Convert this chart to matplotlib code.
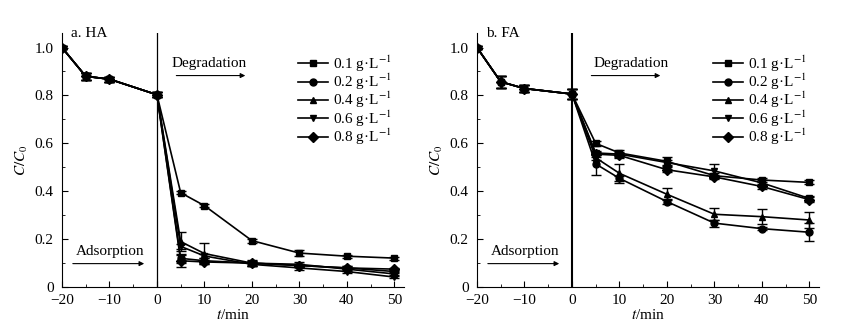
import numpy as np
import matplotlib
matplotlib.use('Agg')
import matplotlib.pyplot as plt
from matplotlib.ticker import MultipleLocator
from matplotlib.lines import Line2D

plt.rcParams['font.family'] = ['Liberation Serif', 'DejaVu Serif']
plt.rcParams['mathtext.fontset'] = 'stix'
plt.rcParams['font.size'] = 11

t = [-20, -15, -10, 0, 5, 10, 20, 30, 40, 50]
labels = ['0.1 g·L$^{-1}$', '0.2 g·L$^{-1}$', '0.4 g·L$^{-1}$', '0.6 g·L$^{-1}$', '0.8 g·L$^{-1}$']
markers = ['s', 'o', '^', 'v', 'D']

# HA panel
ha_01 = [1.0, 0.88, 0.868, 0.803, 0.394, 0.34, 0.194, 0.142, 0.129, 0.121]
ha_02 = [1.0, 0.88, 0.868, 0.803, 0.12, 0.11, 0.10, 0.09, 0.08, 0.065]
ha_04 = [1.0, 0.88, 0.868, 0.803, 0.19, 0.14, 0.10, 0.095, 0.075, 0.055]
ha_06 = [1.0, 0.88, 0.868, 0.803, 0.17, 0.13, 0.095, 0.08, 0.065, 0.042]
ha_08 = [1.0, 0.88, 0.868, 0.803, 0.11, 0.105, 0.10, 0.09, 0.08, 0.075]
ha_e01 = [0.005, 0.015, 0.01, 0.01, 0.006, 0.006, 0.008, 0.012, 0.006, 0.006]
ha_e02 = [0.005, 0.015, 0.01, 0.01, 0.02, 0.01, 0.008, 0.008, 0.006, 0.006]
ha_e04 = [0.005, 0.015, 0.01, 0.01, 0.04, 0.045, 0.01, 0.008, 0.006, 0.006]
ha_e06 = [0.005, 0.015, 0.01, 0.01, 0.01, 0.01, 0.008, 0.01, 0.006, 0.006]
ha_e08 = [0.005, 0.015, 0.01, 0.01, 0.025, 0.01, 0.012, 0.008, 0.006, 0.006]

# FA panel
fa_01 = [1.0, 0.857, 0.829, 0.806, 0.60, 0.56, 0.525, 0.465, 0.447, 0.437]
fa_02 = [1.0, 0.857, 0.829, 0.806, 0.514, 0.454, 0.357, 0.267, 0.244, 0.229]
fa_04 = [1.0, 0.857, 0.829, 0.806, 0.54, 0.475, 0.3875, 0.304, 0.294, 0.28]
fa_06 = [1.0, 0.857, 0.829, 0.806, 0.56, 0.555, 0.52, 0.485, 0.435, 0.37]
fa_08 = [1.0, 0.857, 0.829, 0.806, 0.555, 0.55, 0.49, 0.46, 0.42, 0.365]
fa_e01 = [0.005, 0.025, 0.015, 0.02, 0.01, 0.012, 0.02, 0.01, 0.01, 0.008]
fa_e02 = [0.005, 0.025, 0.015, 0.02, 0.045, 0.01, 0.012, 0.015, 0.005, 0.037]
fa_e04 = [0.005, 0.025, 0.015, 0.02, 0.01, 0.04, 0.025, 0.025, 0.03, 0.032]
fa_e06 = [0.005, 0.025, 0.015, 0.02, 0.01, 0.01, 0.01, 0.03, 0.01, 0.01]
fa_e08 = [0.005, 0.025, 0.015, 0.02, 0.01, 0.01, 0.01, 0.01, 0.01, 0.01]

ha = [ha_01, ha_02, ha_04, ha_06, ha_08]
ha_err = [ha_e01, ha_e02, ha_e04, ha_e06, ha_e08]
fa = [fa_01, fa_02, fa_04, fa_06, fa_08]
fa_err = [fa_e01, fa_e02, fa_e04, fa_e06, fa_e08]

fig = plt.figure(figsize=(8.42, 3.35), dpi=100)
ax1 = fig.add_axes([0.0736, 0.143, 0.406, 0.758])
ax2 = fig.add_axes([0.5665, 0.143, 0.406, 0.758])


def draw_panel(ax, data, errs, title, deg_x, vline_w):
	handles = []
	for y, e, m, lab in zip(data, errs, markers, labels):
		ax.errorbar(t, y, yerr=e, color='black', marker=m, markersize=5,
			linewidth=1.2, capsize=3.5, elinewidth=1.0, capthick=1.0)
		# legend shows only line + marker, no error bar
		handles.append(Line2D([], [], color='black', marker=m, markersize=5,
			linewidth=1.2, label=lab))
	ax.axvline(0, color='black', linewidth=vline_w)
	ax.set_xlim(-20, 52)
	ax.set_ylim(0, 1.06)
	ax.spines['top'].set_visible(False)
	ax.spines['right'].set_visible(False)
	ax.xaxis.set_major_locator(MultipleLocator(10))
	ax.xaxis.set_minor_locator(MultipleLocator(5))
	ax.yaxis.set_minor_locator(MultipleLocator(0.1))
	ax.set_yticks([0, 0.2, 0.4, 0.6, 0.8, 1.0])
	ax.set_yticklabels(['0', '0.2', '0.4', '0.6', '0.8', '1.0'])
	ax.tick_params(which='major', direction='in', length=4, labelsize=11)
	ax.tick_params(which='minor', direction='in', length=2)
	ax.tick_params(axis='y', which='major', pad=6)
	ax.tick_params(axis='x', which='major', pad=5)
	ax.set_xlabel('$t$/min', fontsize=11, labelpad=1)
	ax.set_ylabel('$C/C_0$', fontsize=11, labelpad=3)
	ax.text(-18, 1.058, title, fontsize=11, va='center', ha='left')
	# phase arrows
	ax.text(deg_x, 0.933, 'Degradation', fontsize=11, ha='center', va='center')
	ax.annotate('', xy=(19.2, 0.883), xytext=(3.5, 0.883),
		arrowprops=dict(arrowstyle='-|>', color='black', lw=0.8, mutation_scale=7))
	ax.text(-9.9, 0.15, 'Adsorption', fontsize=11, ha='center', va='center')
	ax.annotate('', xy=(-2.1, 0.098), xytext=(-18.3, 0.098),
		arrowprops=dict(arrowstyle='-|>', color='black', lw=0.8, mutation_scale=7))
	ax.legend(handles=handles, loc='upper left', bbox_to_anchor=(0.69, 0.92),
		frameon=False, borderpad=0, handlelength=2.0, handletextpad=0.3,
		labelspacing=-0.13, fontsize=11, borderaxespad=0)


draw_panel(ax1, ha, ha_err, 'a. HA', 11.0, 0.9)
draw_panel(ax2, fa, fa_err, 'b. FA', 12.5, 1.5)

plt.savefig('out.png', dpi=100)
